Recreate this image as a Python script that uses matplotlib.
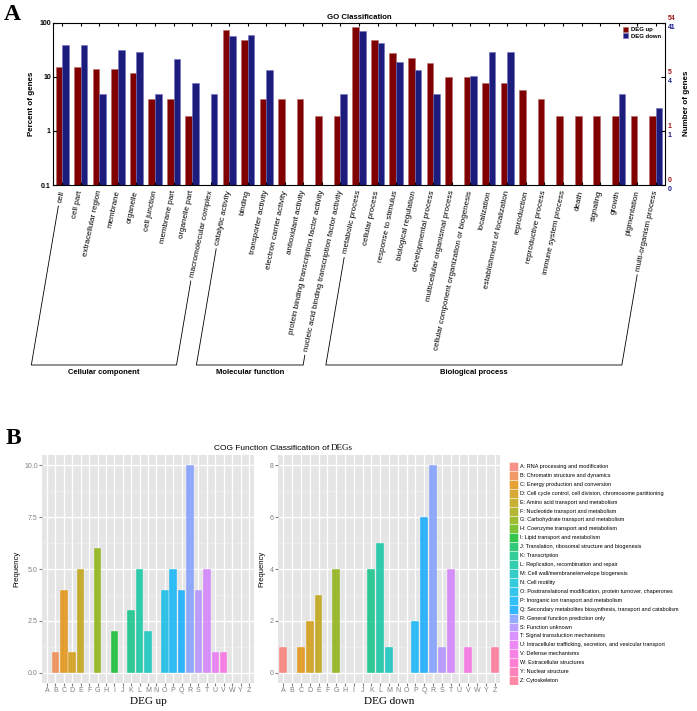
import numpy as np
import matplotlib
matplotlib.use('Agg')
import matplotlib.pyplot as plt
from matplotlib.lines import Line2D
from matplotlib.ticker import NullLocator, MultipleLocator

plt.rcParams['font.family'] = ['Liberation Sans', 'DejaVu Sans']

# ---- panel A: GO classification (percent of genes) ----
go_terms = [
    'cell', 'cell part', 'extracellular region', 'membrane', 'organelle',
    'cell junction', 'membrane part', 'organelle part', 'macromolecular complex',
    'catalytic activity', 'binding', 'transporter activity', 'electron carrier activity',
    'antioxidant activity', 'protein binding transcription factor activity',
    'nucleic acid binding transcription factor activity',
    'metabolic process', 'cellular process', 'response to stimulus', 'biological regulation',
    'developmental process', 'multicellular organismal process',
    'cellular component organization or biogenesis', 'localization',
    'establishment of localization', 'reproduction', 'reproductive process',
    'immune system process', 'death', 'signaling', 'growth', 'pigmentation',
    'multi-organism process',
]
go_up_pct = [15.5, 15.5, 13.7, 13.7, 11.7, 3.9, 3.9, 1.9, 0,
             74, 47.7, 3.9, 3.9, 3.9, 1.9, 1.9,
             83, 48.4, 27.8, 22.2, 17.9, 10, 10, 7.8, 7.8, 5.8, 3.9,
             1.9, 1.9, 1.9, 1.9, 1.9, 1.9]
go_down_pct = [39, 39, 4.9, 31.6, 28.6, 4.9, 21, 7.8, 4.9,
               56, 58, 13.1, 0, 0, 0, 4.9,
               71, 42, 18.4, 13.1, 4.9, 0, 10.4, 28.6, 28.6, 0, 0,
               0, 0, 0, 4.9, 0, 2.6]
go_groups = [('Cellular component', 0, 8), ('Molecular function', 9, 15),
             ('Biological process', 16, 32)]
left_ticks = [0.1, 1, 10, 100]
left_labels = ['0.1', '1', '10', '100']
right_up_labels = ['0', '1', '5', '54']
right_down_labels = ['0', '1', '4', '41']

# ---- panel B: COG function classification ----
cog_letters = ['A', 'B', 'C', 'D', 'E', 'F', 'G', 'H', 'I', 'J', 'K', 'L', 'M',
               'N', 'O', 'P', 'Q', 'R', 'S', 'T', 'U', 'V', 'W', 'Y', 'Z']
cog_up = [0, 1, 4, 1, 5, 0, 6, 0, 2, 0, 3, 5, 2, 0, 4, 5, 4, 10, 4, 5, 1, 1, 0, 0, 0]
cog_down = [1, 0, 1, 2, 3, 0, 4, 0, 0, 0, 4, 5, 1, 0, 0, 2, 6, 8, 1, 4, 0, 1, 0, 0, 1]
cog_desc = [
    'RNA processing and modification',
    'Chromatin structure and dynamics',
    'Energy production and conversion',
    'Cell cycle control, cell division, chromosome partitioning',
    'Amino acid transport and metabolism',
    'Nucleotide transport and metabolism',
    'Carbohydrate transport and metabolism',
    'Coenzyme transport and metabolism',
    'Lipid transport and metabolism',
    'Translation, ribosomal structure and biogenesis',
    'Transcription',
    'Replication, recombination and repair',
    'Cell wall/membrane/envelope biogenesis',
    'Cell motility',
    'Posttranslational modification, protein turnover, chaperones',
    'Inorganic ion transport and metabolism',
    'Secondary metabolites biosynthesis, transport and catabolism',
    'General function prediction only',
    'Function unknown',
    'Signal transduction mechanisms',
    'Intracellular trafficking, secretion, and vesicular transport',
    'Defense mechanisms',
    'Extracellular structures',
    'Nuclear structure',
    'Cytoskeleton',
]

RED = '#800000'
BLUE = '#1c1c7c'
W, H = 697, 711


def hue_colors(n, l=65, c=100):
    # ggplot2 default hue palette (polar Luv -> sRGB)
    Xn, Yn, Zn = 0.95047, 1.0, 1.08883
    d = Xn + 15 * Yn + 3 * Zn
    un, vn = 4 * Xn / d, 9 * Yn / d
    M = np.array([[3.2406, -1.5372, -0.4986],
                  [-0.9689, 1.8758, 0.0415],
                  [0.0557, -0.2040, 1.0570]])
    cols = []
    for h in 15 + 360 * np.arange(n) / n:
        hr = np.deg2rad(h)
        u, v = c * np.cos(hr), c * np.sin(hr)
        Y = ((l + 16) / 116) ** 3
        up = u / (13 * l) + un
        vp = v / (13 * l) + vn
        X = Y * 9 * up / (4 * vp)
        Z = Y * (12 - 3 * up - 20 * vp) / (4 * vp)
        rgb = M @ np.array([X, Y, Z])
        rgb = np.where(rgb > 0.0031308, 1.055 * np.abs(rgb) ** (1 / 2.4) - 0.055, 12.92 * rgb)
        cols.append(tuple(np.clip(rgb, 0, 1)))
    return cols


def px_axes(fig, x0, y0, x1, y1):
    return fig.add_axes([x0 / W, 1 - y1 / H, (x1 - x0) / W, (y1 - y0) / H])


fig = plt.figure(figsize=(W / 100, H / 100), dpi=100)

# ================= Panel A =================
ax = px_axes(fig, 53, 22.7, 665, 185)
x = np.arange(len(go_terms))
up = np.array(go_up_pct, dtype=float)
dn = np.array(go_down_pct, dtype=float)
mu, md = up > 0, dn > 0
ax.bar(x[mu] - 0.18, up[mu], width=0.36, color=RED, edgecolor='#b76a6a', lw=0.4, label='DEG up')
ax.bar(x[md] + 0.18, dn[md], width=0.36, color=BLUE, edgecolor='#7070c0', lw=0.4, label='DEG down')
ax.set_yscale('log')
ax.set_ylim(0.1, 100)
ax.set_xlim(-0.5, len(go_terms) - 0.5)
ax.set_yticks(left_ticks)
ax.set_yticklabels(left_labels, fontsize=5, fontweight='bold')
ax.yaxis.set_minor_locator(NullLocator())
ax.tick_params(axis='y', which='both', direction='in', right=True, length=3, pad=1.5)
ax.set_xticks(x)
ax.set_xticklabels(go_terms, rotation=78, ha='right', va='center',
                   rotation_mode='anchor', fontsize=5.8)
ax.tick_params(axis='x', direction='in', top=True, length=2.5, pad=4)
ax.set_ylabel('Percent of genes', fontsize=5.8, fontweight='bold', labelpad=3)
ax.set_title('GO Classification', fontsize=5.6, fontweight='bold', pad=3)
ax.legend(loc='upper right', frameon=False, handlelength=0.9, handleheight=0.9,
          handletextpad=0.4, labelspacing=0.15, borderaxespad=0.3,
          prop={'size': 4.3, 'weight': 'bold'})
for yv, lr, lb in zip(left_ticks, right_up_labels, right_down_labels):
    ax.annotate(lr, xy=(1, yv), xycoords=('axes fraction', 'data'), xytext=(2, 3.2),
                textcoords='offset points', color='#a01010', fontsize=5,
                fontweight='bold', va='center', ha='left')
    ax.annotate(lb, xy=(1, yv), xycoords=('axes fraction', 'data'), xytext=(2, -3.2),
                textcoords='offset points', color='#1c1c8c', fontsize=5,
                fontweight='bold', va='center', ha='left')
fig.text(687 / W, 1 - 103 / H, 'Number of genes', rotation=90, ha='center', va='center',
         fontsize=5.8, fontweight='bold')

# group brackets under the rotated labels
fig.canvas.draw()
renderer = fig.canvas.get_renderer()
labels = ax.get_xticklabels()
y_level = H - 365   # display coords (y up)
slope = 0.17


def label_foot(i):
    bb = labels[i].get_window_extent(renderer)
    sx, sy = bb.x0 + 2, bb.y0 - 3
    return (sx, sy), (sx - slope * (sy - y_level), y_level)


for name, i0, i1 in go_groups:
    (s0, c0), (s1, c1) = label_foot(i0), label_foot(i1)
    xs = [s0[0], c0[0], c1[0], s1[0]]
    ys = [s0[1], c0[1], c1[1], s1[1]]
    fig.add_artist(Line2D(np.array(xs) / W, np.array(ys) / H, color='black', lw=0.6))
    fig.text((c0[0] + c1[0]) / 2 / W, (y_level - 8) / H, name, ha='center', va='center',
             fontsize=5.5, fontweight='bold')

# ================= Panel B =================
cols = hue_colors(len(cog_letters))
xb = np.arange(len(cog_letters))
panels = [
    (px_axes(fig, 42, 455, 254, 683), cog_up, 'DEG up', 2.5, '{:.1f}', 10),
    (px_axes(fig, 278, 455, 500, 683), cog_down, 'DEG down', 2, '{:.0f}', 8),
]
for axb, vals, xlab, step, fmt, top in panels:
    vals = np.array(vals)
    m = vals > 0
    axb.bar(xb[m], vals[m], width=0.9, color=[cols[i] for i in xb[m]], alpha=0.8,
            edgecolor='white', lw=0.3)
    axb.set_facecolor('#E5E5E5')
    axb.set_axisbelow(True)
    for s in axb.spines.values():
        s.set_visible(False)
    axb.set_xlim(-0.6, len(cog_letters) - 0.4)
    axb.set_ylim(-0.05 * top, 1.05 * top)
    yt = np.arange(0, top + 0.01, step)
    axb.set_yticks(yt)
    axb.set_yticklabels([fmt.format(v) for v in yt])
    axb.yaxis.set_minor_locator(MultipleLocator(step / 2))
    axb.set_xticks(xb)
    axb.set_xticklabels(cog_letters)
    axb.grid(True, which='major', color='white', lw=0.9)
    axb.grid(True, which='minor', axis='y', color='#F2F2F2', lw=0.4)
    axb.tick_params(which='both', colors='#7F7F7F', labelsize=5, length=2, pad=1)
    axb.tick_params(which='minor', length=0)
    axb.set_ylabel('Frequency', fontsize=5.5, labelpad=3)
    axb.set_xlabel(xlab, family=['Liberation Serif', 'DejaVu Serif'], fontsize=8, labelpad=2)

# COG legend
lax = px_axes(fig, 509, 462, 697, 685)
lax.barh(xb, width=8.5, left=0, height=1, color=cols, alpha=0.8, edgecolor='white', lw=0.4)
lax.set_xlim(0, 188)
lax.set_ylim(len(cog_letters) - 0.5, -0.5)
lax.axis('off')
for i, (lt, desc) in enumerate(zip(cog_letters, cog_desc)):
    lax.text(10.5, i, f'{lt}: {desc}', va='center', ha='left', fontsize=4)

fig.text(329 / W, 1 - 448 / H, 'COG Function Classification of', ha='right', va='center',
         fontsize=6)
fig.text(331 / W, 1 - 448 / H, 'DEGs', ha='left', va='center', fontsize=6.5,
         family=['Liberation Serif', 'DejaVu Serif'])

fig.text(12 / W, 1 - 14 / H, 'A', family=['Liberation Serif', 'DejaVu Serif'],
         fontweight='bold', fontsize=17, ha='center', va='center')
fig.text(13 / W, 1 - 438 / H, 'B', family=['Liberation Serif', 'DejaVu Serif'],
         fontweight='bold', fontsize=17, ha='center', va='center')

fig.savefig('out.png', dpi=100)
